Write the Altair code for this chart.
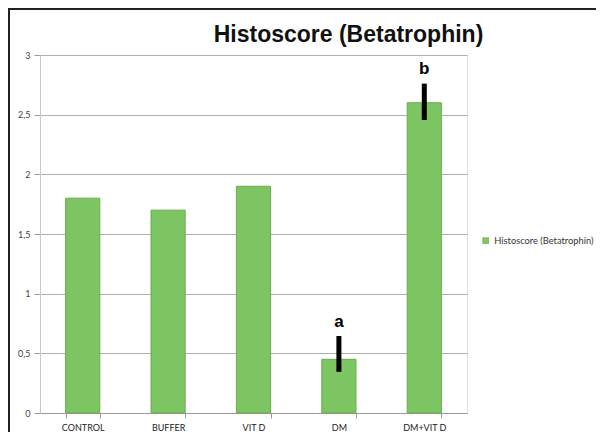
import altair as alt
import pandas as pd

categories = ["CONTROL", "BUFFER", "VIT D", "DM", "DM+VIT D"]
values = [1.8, 1.7, 1.9, 0.45, 2.6]
err_low = [None, None, None, 0.345, 2.455]
err_high = [None, None, None, 0.645, 2.76]
sig_letters = ["", "", "", "a", "b"]
letter_pos = [None, None, None, 0.76, 2.88]
series_name = "Histoscore (Betatrophin)"

df = pd.DataFrame({
    "cat": categories,
    "val": values,
    "lo": err_low,
    "hi": err_high,
    "letter": sig_letters,
    "lpos": letter_pos,
    "series": [series_name] * len(categories),
})

W, H = 427, 358
xenc = alt.X("cat:N", sort=categories, title=None,
             scale=alt.Scale(paddingInner=0.6, paddingOuter=0.3),
             axis=alt.Axis(labelAngle=0, labelFont="Lato", labelFontSize=9,
                           labelColor="#222222", tickBand="extent", tickSize=5,
                           tickColor="#9a9a9a", domainColor="#9a9a9a",
                           labelPadding=5))
yscale = alt.Scale(domain=[0, 3], nice=False)

base = alt.Chart(df)

bars = base.mark_bar(stroke="#69ad4d", strokeWidth=1).encode(
    x=xenc,
    y=alt.Y("val:Q", scale=yscale, title=None,
            axis=alt.Axis(values=[0, 0.5, 1, 1.5, 2, 2.5, 3],
                          labelExpr="replace(format(datum.value, '~g'), '.', ',')",
                          labelFont="Lato", labelFontSize=9, labelColor="#444444",
                          gridColor="#aab3a4", gridWidth=1, tickColor="#9a9a9a",
                          tickSize=6, domainColor="#c8c8c8", labelPadding=4)),
    color=alt.Color("series:N", scale=alt.Scale(range=["#7dc462"]),
                    legend=alt.Legend(title=None, orient="none", legendX=441, legendY=181,
                                      symbolType="square", symbolSize=45,
                                      symbolStrokeWidth=0,
                                      labelFont="Lato", labelFontSize=9.3,
                                      labelColor="#333333", labelLimit=200)),
)

errs = base.mark_rule(color="black", strokeWidth=5).encode(
    x=alt.X("cat:N", sort=categories),
    y=alt.Y("lo:Q", scale=yscale),
    y2="hi:Q",
)

letters = base.mark_text(fontSize=17, fontWeight="bold", font="Liberation Sans",
                         color="black", baseline="middle").encode(
    x=alt.X("cat:N", sort=categories),
    y=alt.Y("lpos:Q", scale=yscale),
    text="letter:N",
)

border_left = alt.Chart(pd.DataFrame({"k": [0]})).mark_rule(color="#222222", strokeWidth=2).encode(
    x=alt.value(-31), y=alt.value(-47), y2=alt.value(H + 30))
border_top = alt.Chart(pd.DataFrame({"k": [0]})).mark_rule(color="#222222", strokeWidth=2).encode(
    x=alt.value(-32), x2=alt.value(560), y=alt.value(-46))

chart = alt.layer(bars, errs, letters, border_left, border_top).properties(
    width=W, height=H,
    autosize=alt.AutoSizeParams(type="none"),
    padding={"left": 32, "top": 47, "right": 129, "bottom": 19},
    title=alt.TitleParams(series_name, font="Liberation Sans", fontSize=23,
                          fontWeight="bold", color="#111111", anchor="middle",
                          baseline="alphabetic", dx=95, dy=58, offset=0),
).configure_view(fill="#e6efe0", stroke=None).configure(background="white")

chart.save("out.html", embed_options={"renderer": "svg", "actions": False})
